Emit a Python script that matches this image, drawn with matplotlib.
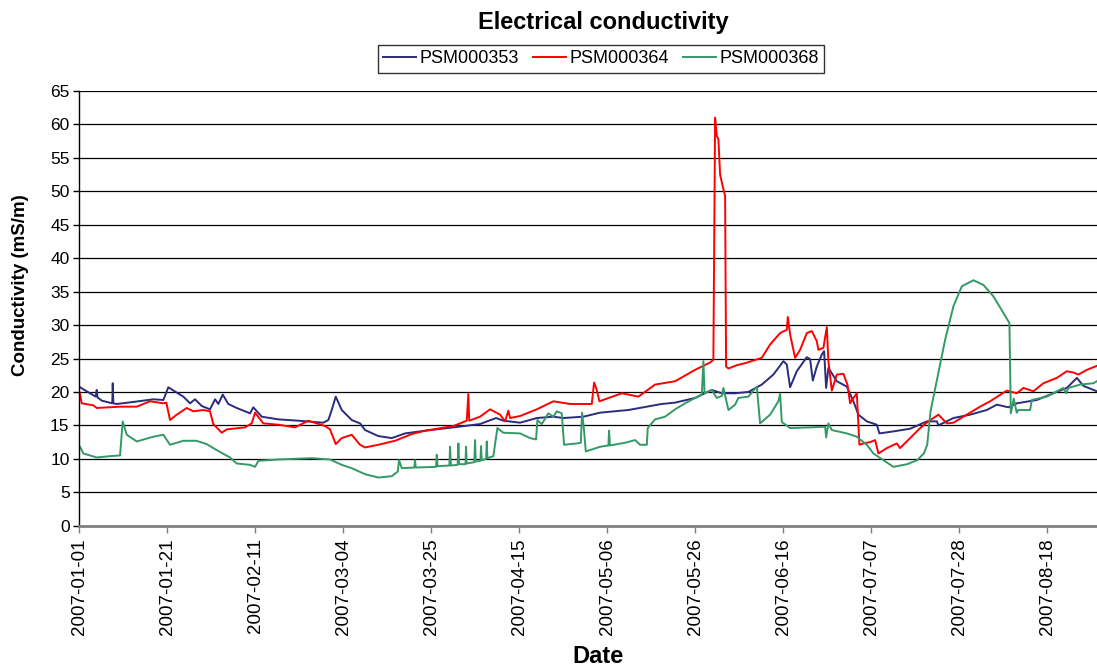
import matplotlib
matplotlib.use("Agg")
import matplotlib.pyplot as plt
import pandas as pd

plt.rcParams['font.family'] = ['Liberation Sans', 'DejaVu Sans']

# days since 2007-01-01 00:00 and conductivity (mS/m)
days_353 = [0, 0.17, 2.53, 3.9, 4.12, 4.3, 5.30, 7.8, 7.91, 8.05, 8.85, 12.78, 17.52, 19.89,
            21.07, 23.06, 24.62, 26.21, 27.39, 28.98, 30.94, 32.13, 32.91, 33.95, 35.27, 37.26,
            40.41, 41.19, 43.18, 47.11, 51.85, 57.77, 58.95, 59.75, 60.70, 62.12, 64.49, 66.45,
            67.64, 70.79, 73.96, 77.11, 81.84, 88.54, 94.86, 98.65, 100.38, 104.33, 108.29,
            112.22, 114.58, 119.32, 123.27, 129.97, 137.88, 141.03, 145.76, 149.72, 152.08,
            155.23, 158.38, 161.55, 164.30, 166.67, 167.47, 168.25, 169.84, 172.21, 172.99,
            173.63, 174.57, 175.76, 176.30, 176.78, 177.32, 179.31, 181.68, 183.24, 184.42,
            186.41, 188.78, 189.39, 192.71, 196.66, 200.62, 203.0, 203.36, 206.91, 210.87,
            214.82, 217.19, 219.94, 221.92, 226.66, 230.59, 233.76, 236.13, 237.69, 240.86]
psm_353 = [20.8, 20.7, 19.8, 19.3, 20.3, 19.2, 18.7, 18.3, 21.3, 18.3, 18.2, 18.5, 18.9, 18.8,
           20.7, 19.9, 19.3, 18.3, 18.9, 17.9, 17.4, 18.9, 18.2, 19.6, 18.2, 17.6,
           16.8, 17.7, 16.3, 15.9, 15.7, 15.4, 15.8, 17.3, 19.3, 17.3, 15.8, 15.3,
           14.3, 13.4, 13.1, 13.8, 14.2, 14.7, 15.2, 16.1, 15.7, 15.4, 16.1,
           16.3, 16.1, 16.3, 16.9, 17.3, 18.2, 18.4, 19.1, 20.3, 19.8,
           19.8, 20.0, 21.1, 22.6, 24.6, 24.1, 20.7, 23.1, 25.2, 24.9,
           21.7, 23.8, 25.6, 26.1, 20.6, 23.6, 21.6, 20.8, 18.6, 16.6,
           15.6, 15.1, 13.8, 14.1, 14.5, 15.6, 15.6, 15.0, 16.1, 16.6,
           17.3, 18.1, 17.7, 18.3, 18.8, 19.8, 20.6, 22.1, 20.9, 20.1]

days_364 = [0, 0.17, 0.57, 3.31, 4.12, 9.64, 13.59, 16.74, 19.89, 20.6, 21.47, 23.06, 25.43,
            26.99, 29.36, 30.94, 31.72, 33.71, 34.90, 39.23, 40.81, 41.60, 43.56, 47.11, 51.07,
            54.21, 58.17, 59.35, 60.70, 62.12, 64.49, 66.45, 67.64, 70.79, 74.74, 78.69, 81.84,
            88.54, 91.71, 92.09, 92.3, 94.86, 97.23, 99.60, 100.78, 101.56, 101.96, 104.33,
            108.29, 112.22, 116.17, 121.31, 121.85, 122.49, 123.11, 128.41, 132.34, 136.29,
            141.03, 145.76, 149.31, 150.09, 150.50, 150.90, 151.28, 151.68, 152.46, 152.87,
            153.10, 153.65, 155.63, 157.60, 161.55, 163.52, 165.89, 167.47, 167.71, 168.25,
            169.44, 170.62, 172.21, 173.39, 174.57, 174.95, 176.14, 176.94, 177.32, 178.13,
            179.31, 180.87, 181.82, 182.46, 183.24, 184.04, 184.66, 185.61, 187.19, 188.38,
            189.16, 191.15, 193.51, 194.29, 196.66, 199.05, 200.99, 202.18, 203.36, 205.35,
            206.91, 209.28, 213.23, 215.60, 219.55, 221.92, 223.48, 225.85, 228.22, 231.39,
            233.76, 235.32, 236.51, 238.49, 240.86]
psm_364 = [20.0, 19.7, 18.3, 18.0, 17.6, 17.8, 17.8, 18.6, 18.3, 18.4, 15.8, 16.6, 17.6,
           17.1, 17.3, 17.1, 15.2, 13.9, 14.4, 14.7, 15.3, 16.9, 15.3, 15.1, 14.7,
           15.7, 14.9, 14.4, 12.2, 13.1, 13.6, 12.1, 11.7, 12.1, 12.7, 13.7, 14.2,
           14.9, 15.7, 19.7, 15.7, 16.3, 17.4, 16.6, 15.6, 17.2, 16.1, 16.4,
           17.4, 18.6, 18.2, 18.2, 21.4, 20.3, 18.6, 19.8, 19.3, 21.1,
           21.6, 23.3, 24.4, 24.8, 61.0, 58.3, 57.8, 52.5, 50.3, 49.3,
           23.8, 23.5, 24.0, 24.3, 25.1, 27.1, 28.8, 29.3, 31.2, 28.6,
           25.1, 26.3, 28.8, 29.1, 27.6, 26.3, 26.6, 29.7, 24.6, 20.2,
           22.6, 22.7, 21.1, 18.3, 19.1, 19.8, 12.1, 12.3, 12.5, 12.8,
           10.8, 11.6, 12.3, 11.6, 13.1, 14.6, 15.6, 16.1, 16.6, 15.3,
           15.4, 16.3, 17.8, 18.6, 20.2, 19.8, 20.6, 20.1, 21.3, 22.1,
           23.1, 22.9, 22.6, 23.3, 23.9]

days_368 = [0, 0.17, 0.95, 4.12, 7.27, 9.64, 10.27, 11.22, 13.59, 17.52, 19.89, 21.47, 24.62,
            27.7, 30.16, 32.53, 35.68, 37.26, 40.41, 41.60, 42.38, 47.11, 55.02, 59.35, 62.12,
            64.49, 67.64, 70.79, 73.96, 75.38, 75.69, 76.33, 79.3, 79.47, 79.65, 84.45, 84.61,
            84.8, 87.6, 87.76, 87.95, 89.55, 89.73, 89.9, 91.4, 91.55, 91.7, 93.5, 93.68, 93.85,
            94.95, 95.10, 95.25, 96.3, 96.45, 96.6, 98.01, 98.96, 100.38, 104.33, 106.70,
            108.12, 108.43, 109.47, 111.03, 112.22, 113.02, 114.20, 114.75, 117.76, 118.70,
            119.01, 119.4, 119.89, 123.27, 125.24, 125.40, 125.6, 129.19, 131.56, 132.74,
            134.33, 134.56, 136.29, 138.66, 141.03, 143.39, 145.76, 147.35, 147.73, 148.0,
            149.72, 150.90, 152.08, 152.46, 153.65, 155.23, 156.01, 158.38, 160.37, 161.15,
            163.52, 165.48, 165.89, 166.29, 168.25, 172.99, 176.54, 176.78, 177.32, 178.13,
            181.68, 184.04, 186.41, 187.97, 190.34, 192.71, 195.98, 198.34, 199.91, 200.71,
            201.49, 203.0, 204.95, 206.91, 208.90, 211.65, 214.02, 216.38, 218.75, 220.17,
            220.50, 221.2, 221.9, 222.30, 225.07, 225.47, 229.02, 232.95, 233.59, 234.14,
            236.91, 240.06, 240.86]
psm_368 = [11.9, 11.8, 10.8, 10.2, 10.4, 10.5, 15.6, 13.6, 12.6, 13.3, 13.6, 12.1, 12.7,
           12.7, 12.2, 11.3, 10.2, 9.3, 9.1, 8.8, 9.7, 9.9, 10.1, 9.9, 9.1,
           8.6, 7.7, 7.2, 7.4, 8.1, 9.8, 8.6, 8.7, 9.8, 8.7, 8.8, 10.6,
           8.9, 9.0, 11.8, 9.0, 9.1, 12.3, 9.2, 9.2, 11.8, 9.3, 9.5, 12.8, 9.6,
           9.7, 11.9, 9.8, 10.0, 12.6, 10.1, 10.4, 14.6, 13.9, 13.8, 13.1,
           12.9, 15.8, 15.2, 16.8, 16.3, 17.1, 16.8, 12.1, 12.3, 12.4,
           16.9, 14.8, 11.1, 11.8, 12.0, 14.2, 12.0, 12.4, 12.8, 12.1,
           12.1, 14.6, 15.9, 16.3, 17.4, 18.3, 19.1, 19.6, 24.6, 19.8,
           20.3, 19.1, 19.4, 20.6, 17.3, 18.1, 19.1, 19.3, 20.8, 15.3,
           16.6, 18.6, 19.7, 15.5, 14.6, 14.7, 14.8, 13.2, 15.3, 14.3,
           13.8, 13.3, 12.1, 10.8, 9.8, 8.8, 9.2, 9.8, 10.8, 12.1,
           17.1, 21.8, 27.8, 32.8, 35.8, 36.7, 36.0, 34.3, 31.8, 30.3,
           16.8, 19.0, 16.9, 17.3, 17.3, 18.8, 19.3, 20.6, 19.8, 20.6,
           21.1, 21.3, 21.6]

series = [("PSM000353", days_353, psm_353, "#2b2b80"),
          ("PSM000364", days_364, psm_364, "#ff0000"),
          ("PSM000368", days_368, psm_368, "#339966")]

start = pd.Timestamp("2007-01-01")
end_days = 240.9

fig = plt.figure(figsize=(10.97, 6.69), dpi=100)
ax = fig.add_axes([0.0723, 0.2142, 1 - 0.0723, 0.864 - 0.2142])

for name, d, v, c in series:
    t = start + pd.to_timedelta(d, unit="D")
    ax.plot(t, v, color=c, lw=1.4, label=name)

# ticks every 500 hours, like the original category axis
ticks = [start + pd.Timedelta(hours=500 * k) for k in range(12)]
ax.set_xticks(ticks)
ax.set_xticklabels([t.strftime("%Y-%m-%d") for t in ticks], rotation=90, fontsize=13.5)
ax.set_xlim(start, start + pd.Timedelta(days=end_days))

ax.set_ylim(0, 65)
ax.set_yticks(range(0, 66, 5))
ax.tick_params(axis="y", labelsize=12.5, length=4, width=1, direction="out", pad=3)
ax.tick_params(axis="x", length=5, width=1, direction="out", pad=4, color="#808080")
ax.yaxis.grid(True, color="black", lw=0.9)
ax.set_axisbelow(True)

for s in ["top", "right"]:
    ax.spines[s].set_visible(False)
ax.spines["left"].set_color("black")
ax.spines["left"].set_linewidth(1)
ax.spines["bottom"].set_color("#808080")
ax.spines["bottom"].set_linewidth(2)

fig.text(0.5497, 0.967, "Electrical conductivity", ha="center", va="center",
         fontsize=17, fontweight="bold")
fig.text(0.545, 0.019, "Date", ha="center", va="center", fontsize=17, fontweight="bold")
fig.text(0.019, 0.574, "Conductivity (mS/m)", ha="center", va="center", rotation=90,
         fontsize=13.5, fontweight="bold")

leg = fig.legend(loc="center", bbox_to_anchor=(0.548, 0.912), ncol=3, fontsize=13,
                 frameon=True, fancybox=False, edgecolor="black", handlelength=1.8,
                 handletextpad=0.2, columnspacing=0.8, borderpad=0.3)
leg.get_frame().set_linewidth(1)

plt.savefig("out.png", dpi=100)
